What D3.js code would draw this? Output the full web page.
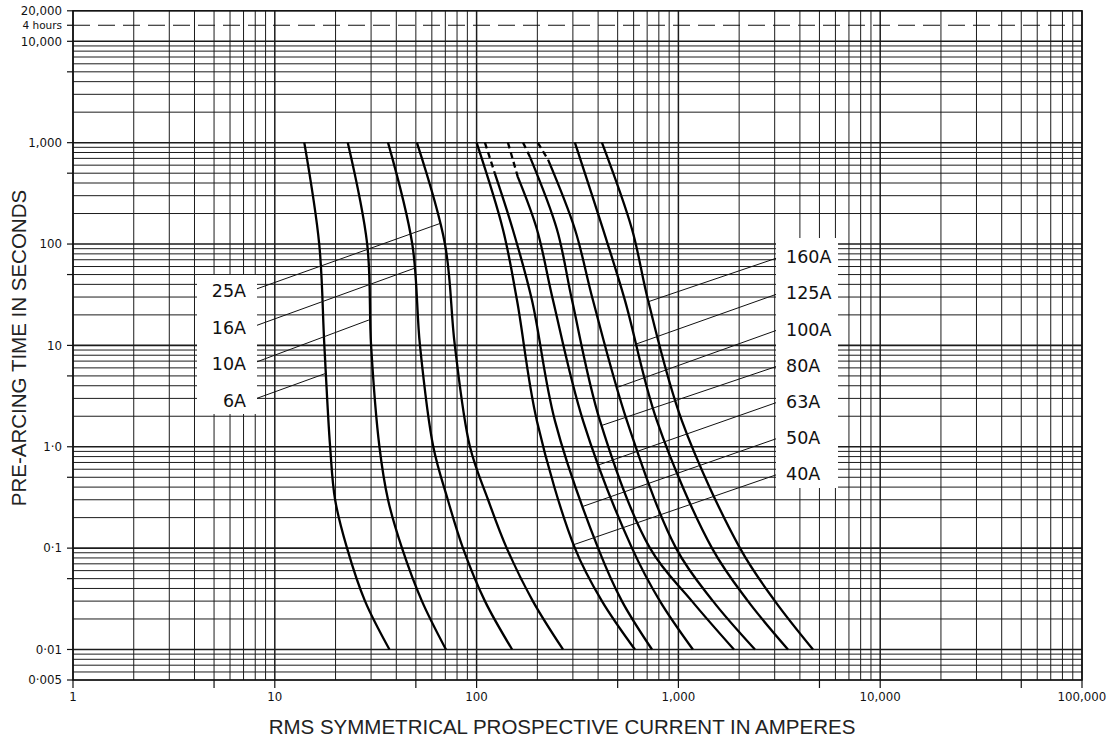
<!DOCTYPE html>
<html>
<head>
<meta charset="utf-8">
<script src="https://cdnjs.cloudflare.com/ajax/libs/d3/7.8.5/d3.min.js"></script>
<style>
    body { margin: 0; background: white; }
    svg { display: block; }
    .tickTxt { font-family: "DejaVu Sans", sans-serif; font-size: 11.8px; fill: #111; }
    .fuseTxt { font-family: "DejaVu Sans", sans-serif; font-size: 17.5px; fill: #111; }
    .titleTxt { font-family: "Liberation Sans", Arial, sans-serif; font-size: 20.5px; fill: #222; }
</style>
</head>
<body>
<script>
const fuseNames = ["6A", "10A", "16A", "25A", "40A", "50A", "63A", "80A", "100A", "125A", "160A"];

// pre-arcing time (s) at which the currents below were read
const leftTimes = [1000, 100, 10, 1, 0.3, 0.1, 0.03, 0.01];
const rightTimes = [1000, 140, 28, 1.8, 0.1, 0.03, 0.01];

const amps6A = [14, 16.6, 17.6, 18.8, 19.9, 22.8, 28, 37];
const amps10A = [23, 28.7, 30, 33, 36.4, 42.7, 53.6, 70.5];
const amps16A = [36.4, 48, 52.4, 61, 72, 85.6, 110, 150];
const amps25A = [50.6, 69.7, 78, 92.7, 114, 141, 190, 268];
const amps40A = [100, 135, 158.5, 199, 307, 418, 609];
const amps50A = [110, 151, 188, 244.5, 400, 525, 740];
const amps63A = [143, 199, 239, 337, 589, 810, 1180];
const amps80A = [170, 250, 297, 409, 723, 1167, 1885];
const amps100A = [201, 307, 377, 556, 973, 1484, 2396];
const amps125A = [307, 423, 543, 783, 1467, 2212, 3492];
const amps160A = [418, 589, 707, 1041, 2019, 3010, 4644];

// end of the dashed top part (time, current), 0 = solid all the way
const dashTime = [0, 0, 0, 0, 0, 500, 460, 720, 680, 0, 0];
const dashAmps = [0, 0, 0, 0, 0, 123, 160, 184, 226, 0, 0];

// time where each leader line touches its curve
const leaderTime = [5.3, 18, 58, 160, 0.108, 0.257, 0.66, 1.62, 3.83, 10.3, 27];

const xTickValues = [1, 10, 100, 1000, 10000, 100000];
const xTickLabels = ["1", "10", "100", "1,000", "10,000", "100,000"];
const yTickValues = [20000, 14400, 10000, 1000, 100, 10, 1, 0.1, 0.01, 0.005];
const yTickLabels = ["20,000", "4 hours", "10,000", "1,000", "100", "10", "1·0", "0·1", "0·01", "0·005"];
const xMarkValues = [1, 5, 10, 50, 100, 500, 1000, 5000, 10000, 50000, 100000];
const yMarkValues = [20000, 14400, 10000, 5000, 1000, 500, 100, 50, 10, 5, 1, 0.5, 0.1, 0.05, 0.01, 0.005];

const largeur = 1109,
    hauteur = 742;
const plotLeft = 73,
    plotRight = 1082,
    plotTop = 10.8,
    plotBottom = 680;

const x = d3.scaleLog().domain([1, 100000]).range([plotLeft, plotRight]);
const y = d3.scaleLog().domain([0.005, 20000]).range([plotBottom, plotTop]);

const svgSpace = d3.select("body").append("svg")
    .attr("width", largeur)
    .attr("height", hauteur);

// grid
const xGrid = [],
    yGrid = [];
for (let e = 0; e <= 4; e++) for (let k = 1; k <= 9; k++) xGrid.push(k * 10 ** e);
xGrid.push(100000);
for (let e = -3; e <= 4; e++) {
    for (let k = 1; k <= 9; k++) {
        const v = k * 10 ** e;
        if (v > 0.005 * 0.999 && v < 20000 * 1.001) yGrid.push(v);
    }
}
const isMajor = (v) => Math.abs(Math.log10(v) - Math.round(Math.log10(v))) < 1e-6;

svgSpace.append("g")
    .selectAll("line")
    .data(xGrid)
    .enter()
    .append("line")
    .attr("x1", (d) => x(d)).attr("x2", (d) => x(d))
    .attr("y1", plotTop).attr("y2", plotBottom)
    .attr("stroke", "#1c1c1c")
    .attr("stroke-width", (d) => isMajor(d) ? 1.5 : 1);

svgSpace.append("g")
    .selectAll("line")
    .data(yGrid)
    .enter()
    .append("line")
    .attr("x1", plotLeft).attr("x2", plotRight)
    .attr("y1", (d) => y(d)).attr("y2", (d) => y(d))
    .attr("stroke", "#1c1c1c")
    .attr("stroke-width", (d) => isMajor(d) ? 1.6 : 1);

svgSpace.append("rect")
    .attr("x", plotLeft).attr("y", plotTop)
    .attr("width", plotRight - plotLeft).attr("height", plotBottom - plotTop)
    .attr("fill", "none")
    .attr("stroke", "#111")
    .attr("stroke-width", 1.5);

// 4 hours
svgSpace.append("line")
    .attr("x1", plotLeft).attr("x2", plotRight)
    .attr("y1", y(14400)).attr("y2", y(14400))
    .attr("stroke", "#111")
    .attr("stroke-width", 1)
    .attr("stroke-dasharray", "17,8");

// label boxes
svgSpace.append("rect").attr("x", 197).attr("y", 275).attr("width", 60).attr("height", 139).attr("fill", "white");
svgSpace.append("rect").attr("x", 776).attr("y", 238).attr("width", 62).attr("height", 250).attr("fill", "white");

// curves
const allAmps = [amps6A, amps10A, amps16A, amps25A, amps40A, amps50A, amps63A, amps80A, amps100A, amps125A, amps160A];
const line = d3.line()
    .x((d) => x(d.I))
    .y((d) => y(d.t))
    .curve(d3.curveCatmullRom.alpha(0.5));

const curveNodes = allAmps.map((amps, i) => {
    const times = i < 4 ? leftTimes : rightTimes;
    let pts = times.map((t, j) => ({ t: t, I: amps[j] }));

    if (dashTime[i] > 0) {
        const br = { t: dashTime[i], I: dashAmps[i] };
        svgSpace.append("path")
            .attr("d", line([pts[0], br]))
            .attr("fill", "none")
            .attr("stroke", "#000")
            .attr("stroke-width", 2.3)
            .attr("stroke-dasharray", "6,4");
        pts = [br].concat(pts.slice(1));
    }

    return svgSpace.append("path")
        .attr("d", line(pts))
        .attr("fill", "none")
        .attr("stroke", "#000")
        .attr("stroke-width", 2.3)
        .node();
});

function tipOnPath(node, ty) {
    let lo = 0,
        hi = node.getTotalLength();
    for (let k = 0; k < 40; k++) {
        const mid = (lo + hi) / 2;
        if (node.getPointAtLength(mid).y < ty) lo = mid;
        else hi = mid;
    }
    return node.getPointAtLength(lo);
}

// labels + leader lines
fuseNames.forEach((name, i) => {
    const isLeft = i < 4;
    const row = isLeft ? 3 - i : 10 - i;
    const base = isLeft ? 297.3 + 36.5 * row : 263.3 + 36.1 * row;
    const tip = tipOnPath(curveNodes[i], y(leaderTime[i]));

    svgSpace.append("line")
        .attr("x1", isLeft ? 257 : 776)
        .attr("y1", isLeft ? base - 8.5 : base - 5)
        .attr("x2", tip.x).attr("y2", tip.y)
        .attr("stroke", "#111")
        .attr("stroke-width", 1);

    svgSpace.append("text")
        .attr("class", "fuseTxt")
        .attr("x", isLeft ? 246 : 786)
        .attr("y", base)
        .attr("text-anchor", isLeft ? "end" : "start")
        .text(name);
});

// axes ticks
svgSpace.append("g")
    .selectAll("line")
    .data(yMarkValues)
    .enter()
    .append("line")
    .attr("x1", plotLeft - 6).attr("x2", plotLeft)
    .attr("y1", (d) => y(d)).attr("y2", (d) => y(d))
    .attr("stroke", "#111")
    .attr("stroke-width", 1.2);

svgSpace.append("g")
    .selectAll("line")
    .data(xMarkValues)
    .enter()
    .append("line")
    .attr("x1", (d) => x(d)).attr("x2", (d) => x(d))
    .attr("y1", plotBottom).attr("y2", plotBottom + 8)
    .attr("stroke", "#111")
    .attr("stroke-width", 1.2);

svgSpace.append("g")
    .selectAll("text")
    .data(yTickValues)
    .enter()
    .append("text")
    .attr("class", "tickTxt")
    .attr("x", 62)
    .attr("y", (d) => y(d))
    .attr("dy", "0.36em")
    .attr("text-anchor", "end")
    .style("font-size", (d, i) => i == 1 ? "10.5px" : null)
    .text((d, i) => yTickLabels[i]);

svgSpace.append("g")
    .selectAll("text")
    .data(xTickValues)
    .enter()
    .append("text")
    .attr("class", "tickTxt")
    .attr("x", (d) => x(d))
    .attr("y", 701)
    .attr("text-anchor", "middle")
    .text((d, i) => xTickLabels[i]);

// titles
svgSpace.append("text")
    .attr("class", "titleTxt")
    .attr("x", 562)
    .attr("y", 734)
    .attr("text-anchor", "middle")
    .text("RMS SYMMETRICAL PROSPECTIVE CURRENT IN AMPERES");

svgSpace.append("text")
    .attr("class", "titleTxt")
    .attr("transform", "translate(26,348) rotate(-90)")
    .attr("text-anchor", "middle")
    .text("PRE-ARCING TIME IN SECONDS");
</script>
</body>
</html>
